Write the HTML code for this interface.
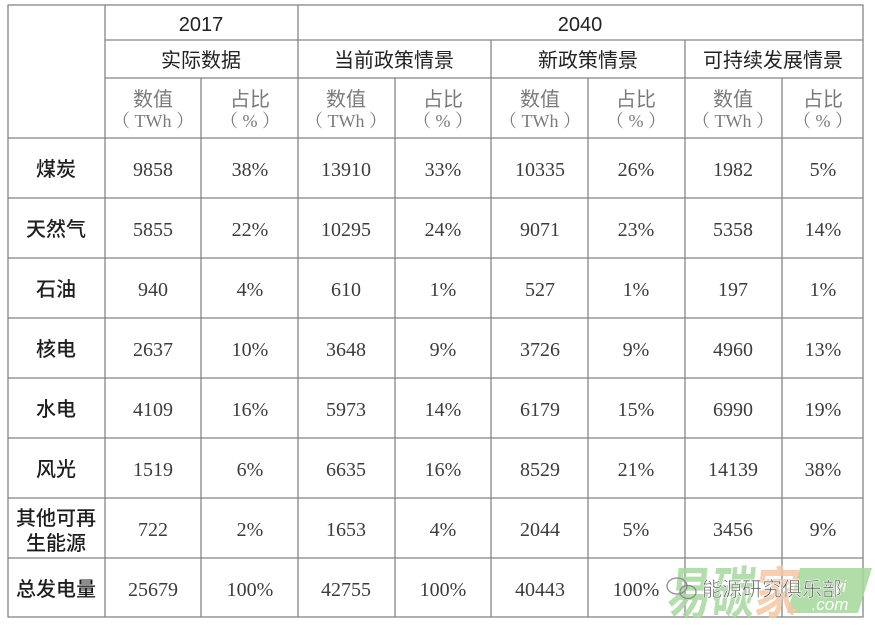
<!DOCTYPE html>
<html><head><meta charset="utf-8"><style>
html,body{margin:0;padding:0;background:#fff;}
svg{display:block;}
.h{font-family:"Liberation Sans","Noto Sans CJK SC",sans-serif;font-size:20px;fill:#222;text-anchor:middle;}
.s{font-family:"Liberation Sans","Noto Sans CJK SC",sans-serif;font-size:20px;fill:#7a7a7a;text-anchor:middle;}
.t{font-family:"Liberation Serif","Noto Serif CJK SC",serif;font-size:18px;fill:#7a7a7a;text-anchor:middle;}
.n{font-family:"Liberation Serif",serif;font-size:20px;fill:#3c3c3c;text-anchor:middle;}
.l{font-family:"Liberation Sans","Noto Sans CJK SC",sans-serif;font-size:20px;fill:#1e1e1e;text-anchor:middle;font-weight:500;}
</style></head><body>
<svg width="875" height="628" viewBox="0 0 875 628" xmlns="http://www.w3.org/2000/svg">
<rect width="875" height="628" fill="#fff"/>
<g stroke="#858585" stroke-width="1.3" fill="none">
<rect x="8" y="5" width="855" height="612"/>
<line x1="105" y1="40" x2="863" y2="40"/>
<line x1="105" y1="78" x2="863" y2="78"/>
<line x1="8" y1="138" x2="863" y2="138"/>
<line x1="8" y1="198" x2="863" y2="198"/>
<line x1="8" y1="258" x2="863" y2="258"/>
<line x1="8" y1="318" x2="863" y2="318"/>
<line x1="8" y1="378" x2="863" y2="378"/>
<line x1="8" y1="438" x2="863" y2="438"/>
<line x1="8" y1="498" x2="863" y2="498"/>
<line x1="8" y1="558" x2="863" y2="558"/>
<line x1="105" y1="5" x2="105" y2="617"/>
<line x1="298" y1="5" x2="298" y2="617"/>
<line x1="491" y1="40" x2="491" y2="617"/>
<line x1="685" y1="40" x2="685" y2="617"/>
<line x1="201" y1="78" x2="201" y2="617"/>
<line x1="395" y1="78" x2="395" y2="617"/>
<line x1="588" y1="78" x2="588" y2="617"/>
<line x1="782" y1="78" x2="782" y2="617"/>
</g>

<text class="h" x="201" y="31">2017</text>
<text class="h" x="580" y="31">2040</text>
<text class="h" x="201" y="67">实际数据</text>
<text class="h" x="394" y="67">当前政策情景</text>
<text class="h" x="588" y="67">新政策情景</text>
<text class="h" x="773" y="67">可持续发展情景</text>

<g>
<text class="s" x="153" y="106">数值</text><text class="t" x="153" y="127">（ TWh ）</text>
<text class="s" x="250" y="106">占比</text><text class="t" x="250" y="127">（ % ）</text>
<text class="s" x="346" y="106">数值</text><text class="t" x="346" y="127">（ TWh ）</text>
<text class="s" x="443" y="106">占比</text><text class="t" x="443" y="127">（ % ）</text>
<text class="s" x="540" y="106">数值</text><text class="t" x="540" y="127">（ TWh ）</text>
<text class="s" x="636" y="106">占比</text><text class="t" x="636" y="127">（ % ）</text>
<text class="s" x="733" y="106">数值</text><text class="t" x="733" y="127">（ TWh ）</text>
<text class="s" x="823" y="106">占比</text><text class="t" x="823" y="127">（ % ）</text>
</g>

<!-- rows -->
<g>
<text class="l" x="56" y="176">煤炭</text>
<text class="n" x="153" y="176">9858</text><text class="n" x="250" y="176">38%</text>
<text class="n" x="346" y="176">13910</text><text class="n" x="443" y="176">33%</text>
<text class="n" x="540" y="176">10335</text><text class="n" x="636" y="176">26%</text>
<text class="n" x="733" y="176">1982</text><text class="n" x="823" y="176">5%</text>

<text class="l" x="56" y="236">天然气</text>
<text class="n" x="153" y="236">5855</text><text class="n" x="250" y="236">22%</text>
<text class="n" x="346" y="236">10295</text><text class="n" x="443" y="236">24%</text>
<text class="n" x="540" y="236">9071</text><text class="n" x="636" y="236">23%</text>
<text class="n" x="733" y="236">5358</text><text class="n" x="823" y="236">14%</text>

<text class="l" x="56" y="296">石油</text>
<text class="n" x="153" y="296">940</text><text class="n" x="250" y="296">4%</text>
<text class="n" x="346" y="296">610</text><text class="n" x="443" y="296">1%</text>
<text class="n" x="540" y="296">527</text><text class="n" x="636" y="296">1%</text>
<text class="n" x="733" y="296">197</text><text class="n" x="823" y="296">1%</text>

<text class="l" x="56" y="356">核电</text>
<text class="n" x="153" y="356">2637</text><text class="n" x="250" y="356">10%</text>
<text class="n" x="346" y="356">3648</text><text class="n" x="443" y="356">9%</text>
<text class="n" x="540" y="356">3726</text><text class="n" x="636" y="356">9%</text>
<text class="n" x="733" y="356">4960</text><text class="n" x="823" y="356">13%</text>

<text class="l" x="56" y="416">水电</text>
<text class="n" x="153" y="416">4109</text><text class="n" x="250" y="416">16%</text>
<text class="n" x="346" y="416">5973</text><text class="n" x="443" y="416">14%</text>
<text class="n" x="540" y="416">6179</text><text class="n" x="636" y="416">15%</text>
<text class="n" x="733" y="416">6990</text><text class="n" x="823" y="416">19%</text>

<text class="l" x="56" y="476">风光</text>
<text class="n" x="153" y="476">1519</text><text class="n" x="250" y="476">6%</text>
<text class="n" x="346" y="476">6635</text><text class="n" x="443" y="476">16%</text>
<text class="n" x="540" y="476">8529</text><text class="n" x="636" y="476">21%</text>
<text class="n" x="733" y="476">14139</text><text class="n" x="823" y="476">38%</text>

<text class="l" x="56" y="525">其他可再</text>
<text class="l" x="56" y="550">生能源</text>
<text class="n" x="153" y="536">722</text><text class="n" x="250" y="536">2%</text>
<text class="n" x="346" y="536">1653</text><text class="n" x="443" y="536">4%</text>
<text class="n" x="540" y="536">2044</text><text class="n" x="636" y="536">5%</text>
<text class="n" x="733" y="536">3456</text><text class="n" x="823" y="536">9%</text>

<text class="l" x="56" y="596">总发电量</text>
<text class="n" x="153" y="596">25679</text><text class="n" x="250" y="596">100%</text>
<text class="n" x="346" y="596">42755</text><text class="n" x="443" y="596">100%</text>
<text class="n" x="540" y="596">40443</text><text class="n" x="636" y="596">100%</text>
</g>

<!-- watermark -->
<g>
<polygon points="800,568 872,568 858,613 787,613" fill="#a3d799" opacity="0.85"/>
<text x="840" y="592" font-family="Liberation Sans,sans-serif" font-size="17" font-style="italic" fill="#fff" text-anchor="middle">yi</text>
<text x="830" y="610" font-family="Liberation Sans,sans-serif" font-size="17" font-style="italic" fill="#fff" text-anchor="middle">.com</text>
<g transform="translate(666,613) scale(0.78,1) skewX(-8)">
<text x="0" y="0" font-family="Liberation Sans,'Noto Sans CJK SC',sans-serif" font-size="56" font-weight="bold" fill="#a8d8a0" opacity="0.85">易碳</text>
<text x="112" y="0" font-family="Liberation Sans,'Noto Sans CJK SC',sans-serif" font-size="56" font-weight="bold" fill="#f6c6a2" opacity="0.85">家</text>
</g>
<ellipse cx="677" cy="586" rx="10" ry="8" fill="none" stroke="#8a8a8a" stroke-width="1.3"/>
<ellipse cx="688" cy="592" rx="8" ry="6.5" fill="none" stroke="#8a8a8a" stroke-width="1.3"/>
<text x="772" y="596" font-family="Liberation Sans,'Noto Sans CJK SC',sans-serif" font-size="20" fill="#555" stroke="#fff" stroke-width="0.6" text-anchor="middle">能源研究俱乐部</text>
</g>
</svg>
</body></html>
